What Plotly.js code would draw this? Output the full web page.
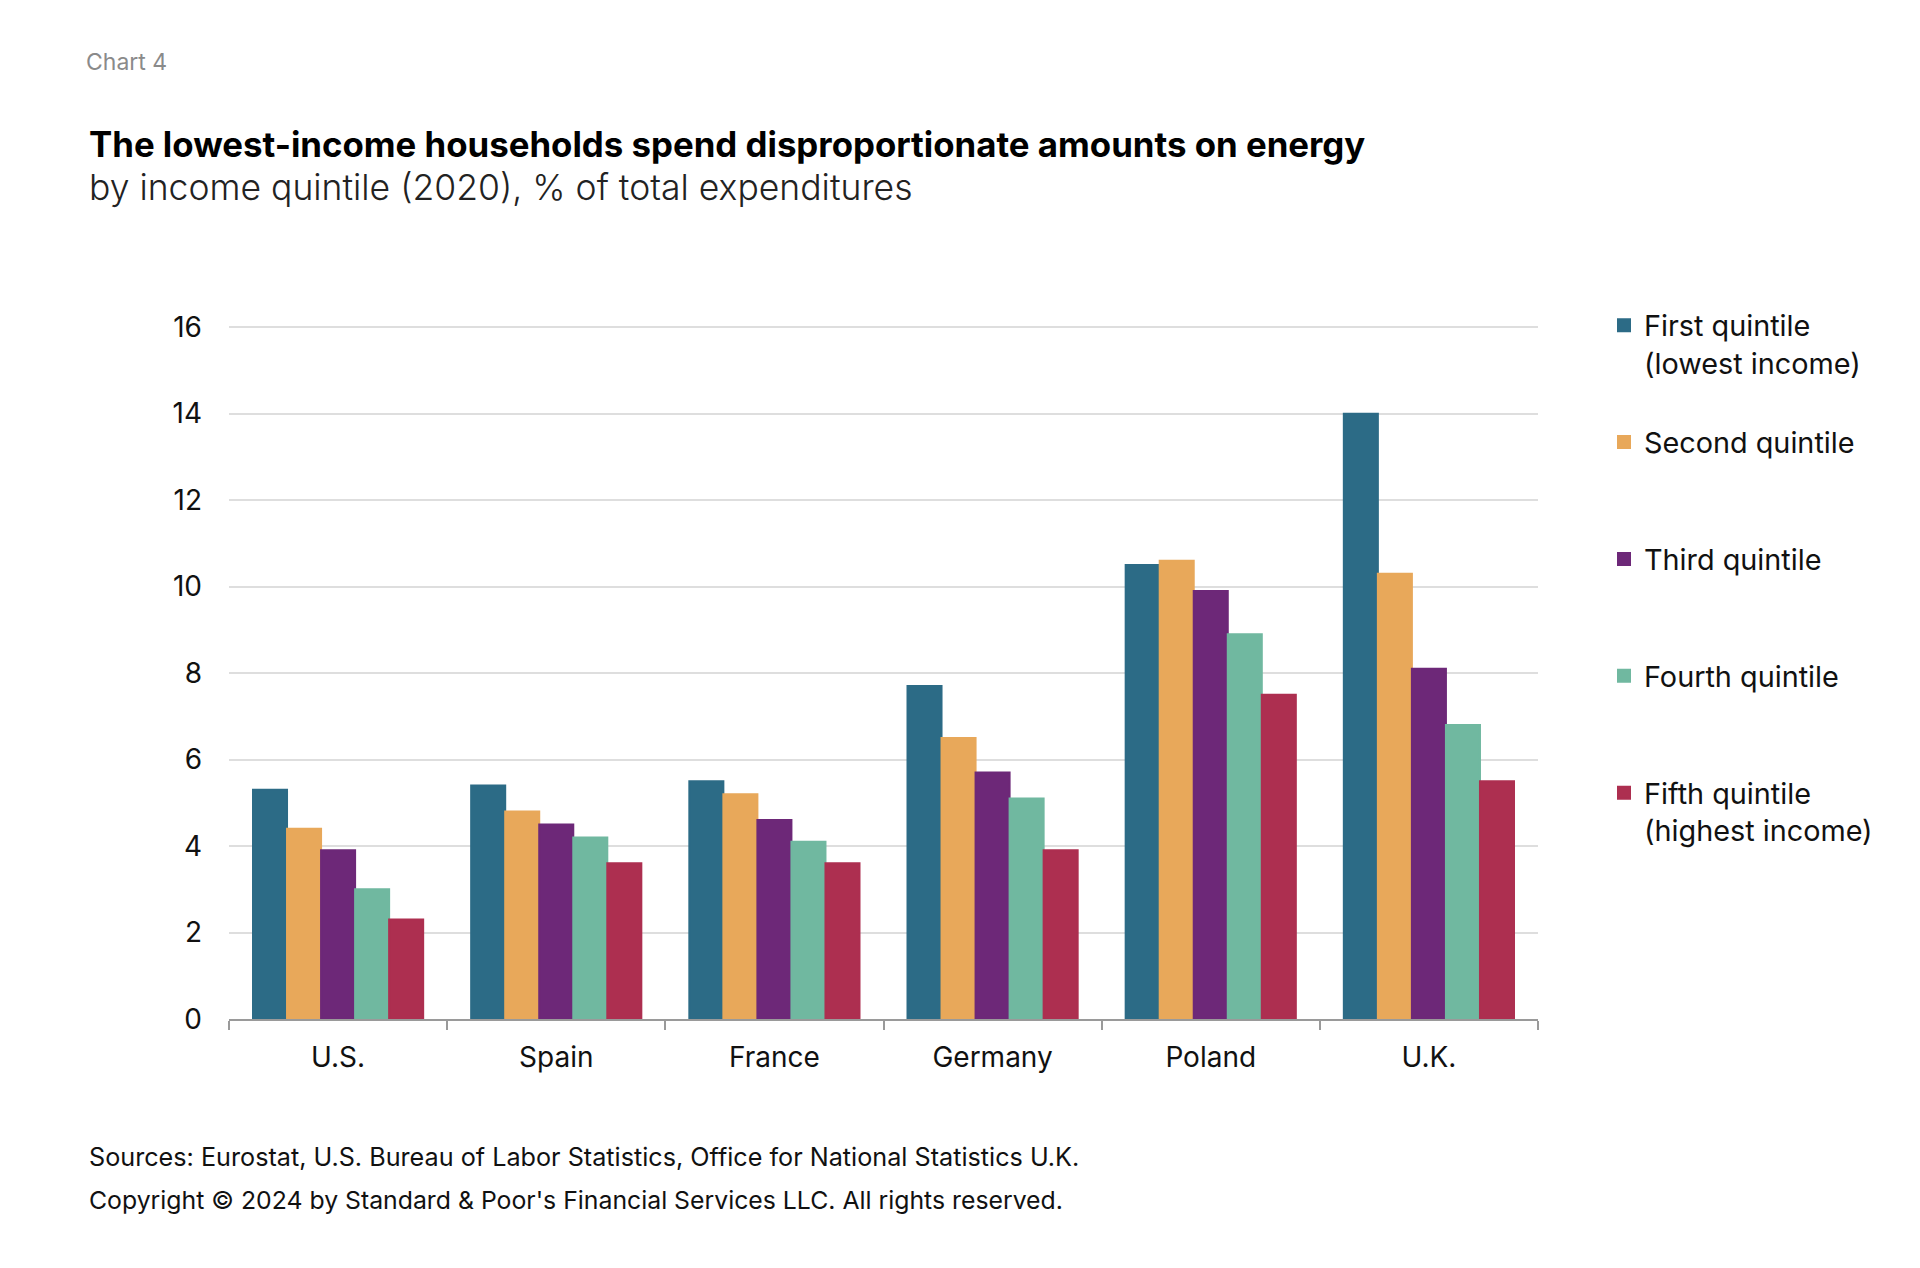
<!DOCTYPE html>
<html>
<head>
<meta charset="utf-8">
<script src="https://cdn.plot.ly/plotly-3.0.1.min.js"></script>
<style>
  html, body { margin: 0; padding: 0; background: #ffffff; }
  #chart { width: 1920px; height: 1268px; }
</style>
</head>
<body>
<div id="chart"></div>
<script>
// ---- Data ----
const countries = ["U.S.", "Spain", "France", "Germany", "Poland", "U.K."];
const seriesNames = [
  "First quintile<br>(lowest income)",
  "Second quintile<br> ",
  "Third quintile<br> ",
  "Fourth quintile<br> ",
  "Fifth quintile<br>(highest income)"
];
const firstQuintile  = [5.3, 5.4, 5.5, 7.7, 10.5, 14.0];
const secondQuintile = [4.4, 4.8, 5.2, 6.5, 10.6, 10.3];
const thirdQuintile  = [3.9, 4.5, 4.6, 5.7, 9.9, 8.1];
const fourthQuintile = [3.0, 4.2, 4.1, 5.1, 8.9, 6.8];
const fifthQuintile  = [2.3, 3.6, 3.6, 3.9, 7.5, 5.5];
const yTicks = [0, 2, 4, 6, 8, 10, 12, 14, 16];

const seriesValues = [firstQuintile, secondQuintile, thirdQuintile, fourthQuintile, fifthQuintile];
const colors = ["#2c6b86", "#e8a85a", "#6d2878", "#70b8a0", "#ad2f50"];

const FONT = "Inter, 'Open Sans', 'DejaVu Sans', sans-serif";

const traces = seriesValues.map((vals, i) => ({
  type: "bar",
  name: seriesNames[i],
  x: countries,
  y: vals,
  legendgroup: "g" + i,
  marker: { color: colors[i], line: { width: 2, color: colors[i] } },
  hoverinfo: "x+y"
}));

// plot area in pixels
const YMAX = 16.05;
const L = 229, R = 1538, B = 1019;
const T = 327 - Math.round((YMAX - 16) * (1019 - 327) / 16);
const W = R - L, H = B - T;
const px = x => (x - L) / W;
const py = y => (B - y) / H;

const layout = {
  width: 1920,
  height: 1268,
  margin: { l: L, r: 1920 - R, t: T, b: 1268 - B, pad: 0 },
  paper_bgcolor: "#ffffff",
  plot_bgcolor: "#ffffff",
  font: { family: FONT, color: "#111111", size: 28 },
  barmode: "group",
  bargap: 0.22,
  bargroupgap: 0,
  showlegend: true,
  legend: {
    x: px(1604), xanchor: "left",
    y: py(300), yanchor: "top",
    valign: "top",
    font: { family: FONT, size: 28.8, color: "#111111" },
    tracegroupgap: 39,
    itemclick: false, itemdoubleclick: false,
    bgcolor: "rgba(0,0,0,0)"
  },
  xaxis: {
    type: "category",
    showgrid: false,
    showline: true,
    linecolor: "#9a9a9a",
    linewidth: 2,
    ticks: "outside",
    tickson: "boundaries",
    ticklen: 9,
    tickwidth: 2,
    tickcolor: "#9a9a9a",
    ticklabelstandoff: 12,
    tickfont: { family: FONT, size: 28, color: "#111111" },
    fixedrange: true,
    zeroline: false
  },
  yaxis: {
    range: [0, YMAX],
    tickvals: yTicks,
    ticktext: yTicks.map(String),
    showgrid: true,
    gridcolor: "#dedede",
    gridwidth: 1.5,
    zeroline: false,
    showline: false,
    ticks: "",
    ticklabelstandoff: 26,
    tickfont: { family: FONT, size: 28, color: "#111111" },
    fixedrange: true
  },
  annotations: [
    { text: "Chart 4", xref: "paper", yref: "paper", x: px(84), y: py(62),
      xanchor: "left", yanchor: "middle", showarrow: false,
      font: { family: FONT, size: 23, color: "#8a8a8a" } },
    { text: "<b>The lowest-income households spend disproportionate amounts on energy</b>",
      xref: "paper", yref: "paper", x: px(87), y: py(144),
      xanchor: "left", yanchor: "middle", showarrow: false,
      font: { family: FONT, size: 34.8, color: "#000000" } },
    { text: "by income quintile (2020), % of total expenditures",
      xref: "paper", yref: "paper", x: px(87), y: py(188),
      xanchor: "left", yanchor: "middle", showarrow: false,
      font: { family: FONT, size: 35.5, color: "#222222", weight: 300 } },
    { text: "Sources: Eurostat, U.S. Bureau of Labor Statistics, Office for National Statistics U.K.",
      xref: "paper", yref: "paper", x: px(87), y: py(1157),
      xanchor: "left", yanchor: "middle", showarrow: false,
      font: { family: FONT, size: 25.2, color: "#111111" } },
    { text: "Copyright © 2024 by Standard &amp; Poor's Financial Services LLC. All rights reserved.",
      xref: "paper", yref: "paper", x: px(87), y: py(1200),
      xanchor: "left", yanchor: "middle", showarrow: false,
      font: { family: FONT, size: 24.8, color: "#111111" } }
  ]
};

Plotly.newPlot("chart", traces, layout, { displayModeBar: false, staticPlot: false, responsive: false });
</script>
</body>
</html>
